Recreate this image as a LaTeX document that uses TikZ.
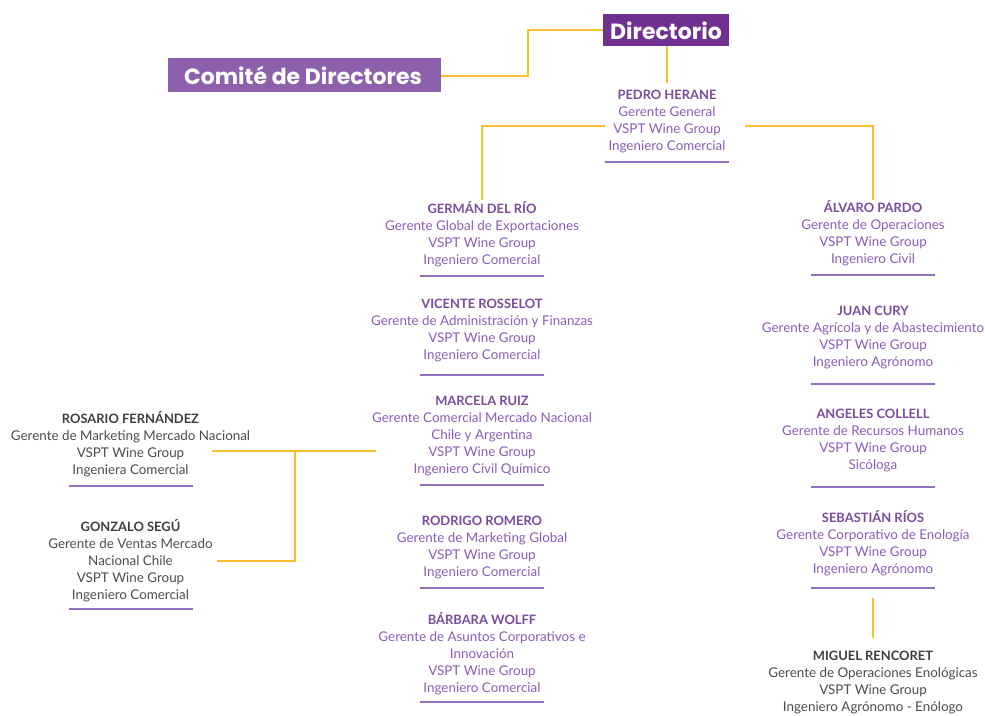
\documentclass[tikz,border=0pt]{standalone}
\usepackage{fontspec}
\setmainfont{Lato}
\newfontfamily\headfont{Poppins}
\definecolor{conncol}{HTML}{F7BE2E}
\definecolor{dirfill}{HTML}{70308F}
\definecolor{comfill}{HTML}{8C60AA}
\definecolor{namecol}{HTML}{7A4A9C}
\definecolor{bodycol}{HTML}{8C5CB4}
\definecolor{graynm}{HTML}{3E3E3E}
\definecolor{graybd}{HTML}{4C4C4C}
\definecolor{ulcol}{HTML}{9370BC}
\newcommand{\nm}[1]{{\bfseries\color{namecol}\fontsize{12.9}{17}\selectfont#1}}
\newcommand{\gnm}[1]{{\bfseries\color{graynm}\fontsize{12.9}{17}\selectfont#1}}
\tikzset{
  person/.style={align=center,inner sep=0pt,text=bodycol,font=\fontsize{13.4}{17}\selectfont},
  gperson/.style={person,text=graybd},
  headbox/.style={inner sep=0pt,text=white,font=\headfont\bfseries\fontsize{22}{24}\selectfont},
  conn/.style={draw=conncol,line width=1.3pt},
  uline/.style={draw=ulcol,line width=1.3pt}
}
\begin{document}
\begin{tikzpicture}[x=1pt,y=-1pt]
\useasboundingbox (0,0) rectangle (985,715);
% header boxes
\fill[dirfill] (603,14) rectangle (729,46);
\node[headbox] (dir) at (666,30.5) {Directorio};
\fill[comfill] (168,58) rectangle (441,92);
\node[headbox] (com) at (303,75.5) {Comité de Directores};
\coordinate (dirL) at (603,30);
\coordinate (dirB) at (667,46);
\coordinate (comR) at (441,76);
% people
\node[person] (pedro) at (667,121.5) {\nm{PEDRO HERANE}\\Gerente General\\VSPT Wine Group\\Ingeniero Comercial};
\node[person] (german) at (482,234.5) {\nm{GERMÁN DEL RÍO}\\Gerente Global de Exportaciones\\VSPT Wine Group\\Ingeniero Comercial};
\node[person] (vicente) at (482,330.5) {\nm{VICENTE ROSSELOT}\\Gerente de Administración y Finanzas\\VSPT Wine Group\\Ingeniero Comercial};
\node[person] (marcela) at (482,436) {\nm{MARCELA RUIZ}\\Gerente Comercial Mercado Nacional\\Chile y Argentina\\VSPT Wine Group\\Ingeniero Civil Químico};
\node[person] (rodrigo) at (482,547.5) {\nm{RODRIGO ROMERO}\\Gerente de Marketing Global\\VSPT Wine Group\\Ingeniero Comercial};
\node[person] (barbara) at (482,654) {\nm{BÁRBARA WOLFF}\\Gerente de Asuntos Corporativos e\\Innovación\\VSPT Wine Group\\Ingeniero Comercial};
\node[person] (alvaro) at (873,233.5) {\nm{ÁLVARO PARDO}\\Gerente de Operaciones\\VSPT Wine Group\\Ingeniero Civil};
\node[person] (juan) at (873,337.5) {\nm{JUAN CURY}\\Gerente Agrícola y de Abastecimiento\\VSPT Wine Group\\Ingeniero Agrónomo};
\node[person] (angeles) at (873,441) {\nm{ANGELES COLLELL}\\Gerente de Recursos Humanos\\VSPT Wine Group\\Sicóloga};
\node[person] (sebastian) at (873,543.5) {\nm{SEBASTIÁN RÍOS}\\Gerente Corporativo de Enología\\VSPT Wine Group\\Ingeniero Agrónomo};
\node[gperson] (miguel) at (873,682.5) {\gnm{MIGUEL RENCORET}\\Gerente de Operaciones Enológicas\\VSPT Wine Group\\Ingeniero Agrónomo - Enólogo};
\node[gperson] (rosario) at (130.5,444) {\gnm{ROSARIO FERNÁNDEZ}\\Gerente de Marketing Mercado Nacional\\VSPT Wine Group\\Ingeniera Comercial};
\node[gperson] (gonzalo) at (130.5,561) {\gnm{GONZALO SEGÚ}\\Gerente de Ventas Mercado\\Nacional Chile\\VSPT Wine Group\\Ingeniero Comercial};
% underlines
\foreach \x/\y in {667/162, 482/276, 482/375, 482/485, 482/588, 482/702, 873/275, 873/384, 873/487, 873/588, 131/486, 131/609}
  \draw[uline] (\x-62,\y) -- (\x+62,\y);
% connector end points
\coordinate (pedroTop) at (667,83);
\coordinate (pL) at (605,126);
\coordinate (pR) at (745,126);
\coordinate (gTop) at (482,200);
\coordinate (aTop) at (873,200);
\coordinate (mL) at (376,451);
\coordinate (rR) at (212,451);
\coordinate (jn) at (295,451);
\coordinate (gzR) at (217,561);
\coordinate (sB) at (873,598);
\coordinate (mT) at (873,638);
% connectors
\draw[conn] (comR) -- ++(87,0) |- (dirL);
\draw[conn] (dirB) -- (pedroTop);
\draw[conn] (pL) -| (gTop);
\draw[conn] (pR) -| (aTop);
\draw[conn] (mL) -- (rR);
\draw[conn] (gzR) -| (jn);
\draw[conn] (sB) -- (mT);
\end{tikzpicture}
\end{document}
